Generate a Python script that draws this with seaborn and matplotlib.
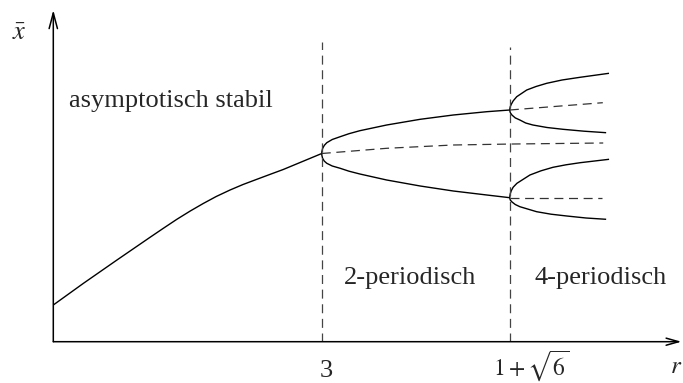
import numpy as np
import pandas as pd
import matplotlib
matplotlib.use("Agg")
import matplotlib.pyplot as plt
import seaborn as sns

sns.set_theme(style="white")
plt.rcParams["font.family"] = ["Liberation Serif", "DejaVu Serif"]
plt.rcParams["mathtext.fontset"] = "stix"

# Bifurcation points of the logistic map
r_period2 = 3.0
r_period4 = 1 + np.sqrt(6)

# Stable fixed point (period 1)
fix_r = [2.359, 2.431, 2.511, 2.590, 2.621, 2.654, 2.686, 2.717, 2.748, 2.781,
         2.812, 2.845, 2.877, 2.908, 2.954, 3.000]
fix_x = [0.367, 0.584, 0.817, 1.044, 1.132, 1.224, 1.307, 1.382, 1.452, 1.517,
         1.572, 1.624, 1.674, 1.722, 1.802, 1.882]

# Period-2 branches
p2_r = [3.000, 3.0003, 3.002, 3.006, 3.012, 3.025, 3.044, 3.065, 3.091, 3.155, 3.235, 3.314, 3.394, 3.449]
p2_upper = [1.882, 1.902, 1.932, 1.963, 1.990, 2.022, 2.050, 2.080, 2.110, 2.167, 2.224, 2.267, 2.300, 2.317]
p2_lower = [1.882, 1.862, 1.834, 1.806, 1.784, 1.757, 1.734, 1.705, 1.677, 1.617, 1.557, 1.507, 1.467, 1.440]

# Unstable continuation of the fixed point
unst1_r = [3.000, 3.155, 3.314, 3.457, 3.672]
unst1_x = [1.882, 1.934, 1.967, 1.977, 1.987]

# Period-4 branches splitting off the upper period-2 branch
p4a_hi_r = [3.449, 3.4492, 3.4502, 3.4525, 3.4570, 3.4655, 3.4894, 3.5116, 3.5371, 3.5737, 3.6166, 3.6858]
p4a_hi_x = [2.317, 2.332, 2.352, 2.374, 2.408, 2.450, 2.517, 2.552, 2.584, 2.617, 2.644, 2.684]
p4a_lo_r = [3.449, 3.4492, 3.4502, 3.454, 3.462, 3.473, 3.4869, 3.504, 3.5378, 3.576, 3.6262, 3.679]
p4a_lo_x = [2.317, 2.305, 2.290, 2.267, 2.238, 2.217, 2.187, 2.167, 2.142, 2.124, 2.105, 2.090]
unst2a_r = [3.449, 3.671]
unst2a_x = [2.317, 2.390]

# Period-4 branches splitting off the lower period-2 branch
p4b_hi_r = [3.449, 3.4492, 3.4502, 3.4525, 3.4570, 3.466, 3.497, 3.5235, 3.552, 3.5832, 3.617, 3.686]
p4b_hi_x = [1.440, 1.458, 1.482, 1.510, 1.545, 1.584, 1.667, 1.709, 1.744, 1.769, 1.790, 1.824]
p4b_lo_r = [3.449, 3.4492, 3.4502, 3.454, 3.462, 3.473, 3.513, 3.5474, 3.585, 3.6309, 3.679]
p4b_lo_x = [1.440, 1.430, 1.416, 1.398, 1.372, 1.350, 1.300, 1.275, 1.257, 1.237, 1.224]
unst2b_r = [3.449, 3.669]
unst2b_x = [1.440, 1.440]

# Vertical separators at the bifurcation values
sep_r = [r_period2, r_period4]
sep_top = [3.00, 2.95]

fig = plt.figure(figsize=(6.83, 3.83), dpi=100)
ax = fig.add_axes([53.3 / 683, 41.3 / 383, (683 - 53.3) / 683, (341.7 - 10) / 383])
ax.set_xlim(2.359, 3.8625)
ax.set_ylim(0, 3.317)
ax.set_facecolor("white")
for s in ax.spines.values():
    s.set_visible(False)
ax.set_xticks([])
ax.set_yticks([])

DASH = (7.2, 4.5)


def curve(r, x, dashed=False, lw=1.0, color="black"):
    sns.lineplot(x=r, y=x, ax=ax, color=color, lw=lw, sort=False, estimator=None)
    line = ax.lines[-1]
    line.set_solid_capstyle("butt")
    line.set_solid_joinstyle("round")
    if dashed:
        line.set_dashes(DASH)


curve(fix_r, fix_x)
curve(p2_r, p2_upper)
curve(p2_r, p2_lower)
curve(unst1_r, unst1_x, dashed=True, lw=0.9, color="#333333")
curve(p4a_hi_r, p4a_hi_x)
curve(p4a_lo_r, p4a_lo_x)
curve(unst2a_r, unst2a_x, dashed=True, lw=0.9, color="#333333")
curve(p4b_hi_r, p4b_hi_x)
curve(p4b_lo_r, p4b_lo_x)
curve(unst2b_r, unst2b_x, dashed=True, lw=0.9, color="#333333")

for r, top in zip(sep_r, sep_top):
    curve([r, r], [0, top], dashed=True, lw=0.9, color="#444444")

# Axes with arrow heads
ax.annotate("", xy=(0.9975, 0), xytext=(0, 0), xycoords="axes fraction",
            arrowprops=dict(arrowstyle="->,head_length=0.6,head_width=0.17",
                            lw=1.1, color="black", shrinkA=0, shrinkB=0,
                            mutation_scale=15), annotation_clip=False)
ax.annotate("", xy=(0, 1.0), xytext=(0, 0), xycoords="axes fraction",
            arrowprops=dict(arrowstyle="->,head_length=0.75,head_width=0.2",
                            lw=1.1, color="black", shrinkA=0, shrinkB=0,
                            mutation_scale=15), annotation_clip=False)

FS = 19
ax.text(2.2774, 3.077, r"$\bar{x}$", fontsize=FS, ha="center", va="center", clip_on=False)
ax.text(3.8465, -0.313, r"$r$", fontsize=18, ha="center", va="baseline", clip_on=False)

tick_labels = ["3", r"$1+\sqrt{6}$"]
tick_sizes = [19, 17]
tick_offsets = [(4.3, -35.3), (21.3, -33.5)]
for r, lab, fs, (dx, dy) in zip(sep_r, tick_labels, tick_sizes, tick_offsets):
    ax.annotate(lab, xy=(r, 0), xytext=(dx, dy), textcoords="offset pixels",
                fontsize=fs, ha="center", va="baseline", annotation_clip=False)

ax.text(2.397, 2.35, "asymptotisch stabil", fontsize=FS, ha="left", va="baseline")
ax.text(3.052, 0.574, "2-periodisch", fontsize=FS, ha="left", va="baseline")
ax.text(3.507, 0.574, "4-periodisch", fontsize=FS, ha="left", va="baseline")

fig.savefig("out.png", dpi=100, facecolor="white")
